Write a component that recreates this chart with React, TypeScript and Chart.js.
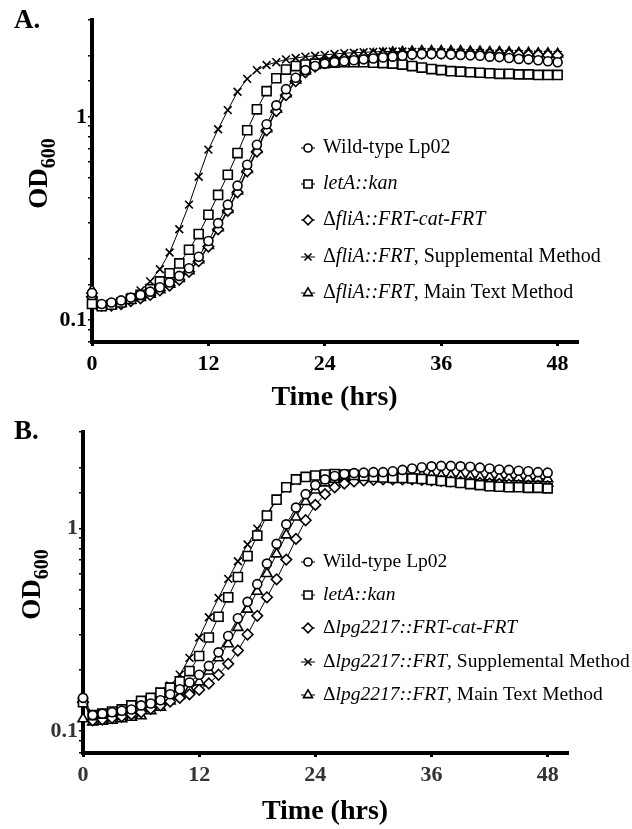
import React, { useEffect, useRef } from "react";
import { Chart, registerables, PointElement } from "chart.js";

Chart.register(...registerables);

const SERIF = '"Liberation Serif", "Times New Roman", serif';

// ---- data ----
const hours = [
  0, 1, 2, 3, 4, 5, 6, 7, 8, 9, 10, 11, 12, 13, 14, 15, 16, 17, 18, 19, 20, 21, 22, 23, 24,
  25, 26, 27, 28, 29, 30, 31, 32, 33, 34, 35, 36, 37, 38, 39, 40, 41, 42, 43, 44, 45, 46, 47, 48,
];
const xTickValues = [0, 12, 24, 36, 48];
const yTickValues = [0.1, 1];

// Panel A
const aWildType = [0.136, 0.12, 0.122, 0.125, 0.129, 0.133, 0.138, 0.145, 0.153, 0.165, 0.18, 0.205, 0.245,
  0.3, 0.37, 0.459, 0.582, 0.729, 0.921, 1.14, 1.37,
  1.56, 1.7, 1.78, 1.83, 1.86, 1.88, 1.9, 1.92, 1.94, 1.96, 1.98, 2.0,
  2.03, 2.04, 2.04, 2.04, 2.03, 2.02, 2.01, 2.0, 1.98, 1.97, 1.95, 1.93, 1.92, 1.9, 1.88, 1.86];
const aLetA = [0.12, 0.117, 0.119, 0.122, 0.127, 0.133, 0.142, 0.155, 0.17, 0.19,
  0.222, 0.265, 0.33, 0.413, 0.519, 0.664, 0.86, 1.09, 1.34, 1.55,
  1.71, 1.78, 1.81, 1.83, 1.84, 1.85, 1.86, 1.86, 1.86, 1.85,
  1.84, 1.83, 1.81, 1.78, 1.75, 1.72, 1.7, 1.68, 1.67, 1.66,
  1.65, 1.64, 1.63, 1.63, 1.62, 1.62, 1.61, 1.61, 1.61];
const aCat = [0.13, 0.118, 0.118, 0.12, 0.124, 0.128, 0.133, 0.14, 0.148, 0.158,
  0.173, 0.195, 0.23, 0.28, 0.345, 0.426, 0.54, 0.676, 0.86, 1.07,
  1.28, 1.5, 1.66, 1.77, 1.84, 1.89, 1.93, 1.96, 1.98, 2.0,
  2.01, 2.02, 2.03, 2.04, 2.05, 2.05, 2.05, 2.05, 2.05, 2.05,
  2.04, 2.04, 2.04, 2.03, 2.03, 2.02, 2.02, 2.01, 2.01];
const aSupp = [0.12, 0.116, 0.118, 0.123, 0.13, 0.14, 0.155, 0.178, 0.215, 0.28,
  0.37, 0.508, 0.69, 0.87, 1.08, 1.33, 1.54, 1.7, 1.8, 1.86,
  1.92, 1.95, 1.98, 2.0, 2.02, 2.04, 2.06, 2.07, 2.08, 2.09,
  2.1, 2.1, 2.1, 2.09, 2.09, 2.08, 2.08, 2.07, 2.07, 2.06,
  2.06, 2.05, 2.05, 2.04, 2.04, 2.03, 2.03, 2.02, 2.02];
const aMain = [0.14, 0.117, 0.118, 0.121, 0.125, 0.129, 0.134, 0.141, 0.15, 0.16,
  0.175, 0.198, 0.233, 0.285, 0.35, 0.432, 0.55, 0.69, 0.875, 1.09,
  1.3, 1.52, 1.68, 1.79, 1.86, 1.91, 1.95, 1.98, 2.01, 2.03,
  2.05, 2.07, 2.08, 2.09, 2.1, 2.1, 2.1, 2.1, 2.1, 2.09,
  2.09, 2.08, 2.08, 2.07, 2.06, 2.06, 2.05, 2.05, 2.04];

// Panel B
const bWildType = [0.146, 0.12, 0.122, 0.124, 0.126, 0.128, 0.134, 0.137, 0.142, 0.152,
  0.161, 0.174, 0.19, 0.21, 0.245, 0.295, 0.361, 0.435, 0.532, 0.672,
  0.841, 1.05, 1.27, 1.48, 1.64, 1.75, 1.82, 1.86, 1.88, 1.89,
  1.9, 1.9, 1.92, 1.95, 1.98, 2.01, 2.03, 2.04, 2.04, 2.03,
  2.02, 2.0, 1.98, 1.96, 1.95, 1.93, 1.92, 1.9, 1.89];
const bLetA = [0.139, 0.12, 0.122, 0.125, 0.128, 0.134, 0.141, 0.146, 0.155, 0.164,
  0.176, 0.198, 0.235, 0.29, 0.367, 0.458, 0.577, 0.732, 0.924, 1.16,
  1.39, 1.6, 1.75, 1.8, 1.83, 1.85, 1.86, 1.85, 1.84, 1.82,
  1.8, 1.79, 1.78, 1.78, 1.77, 1.76, 1.74, 1.72, 1.7, 1.68,
  1.66, 1.64, 1.62, 1.61, 1.6, 1.6, 1.59, 1.59, 1.58];
const bCat = [0.139, 0.113, 0.114, 0.116, 0.118, 0.121, 0.124, 0.129, 0.134, 0.14,
  0.146, 0.152, 0.16, 0.172, 0.19, 0.215, 0.25, 0.3, 0.371, 0.458,
  0.562, 0.703, 0.89, 1.1, 1.31, 1.48, 1.6, 1.67, 1.71, 1.73,
  1.74, 1.75, 1.75, 1.75, 1.75, 1.74, 1.73, 1.72, 1.71, 1.7,
  1.69, 1.68, 1.67, 1.66, 1.65, 1.64, 1.63, 1.63, 1.62];
const bSupp = [0.139, 0.118, 0.12, 0.123, 0.127, 0.132, 0.139, 0.147, 0.157, 0.168,
  0.19, 0.23, 0.29, 0.365, 0.455, 0.565, 0.69, 0.835, 1.0, 1.18,
  1.4, 1.58, 1.72, 1.8, 1.83, 1.84, 1.84, 1.83, 1.82, 1.81,
  1.8, 1.79, 1.78, 1.77, 1.76, 1.75, 1.73, 1.71, 1.69, 1.67,
  1.66, 1.65, 1.64, 1.63, 1.62, 1.62, 1.61, 1.61, 1.6];
const bMain = [0.115, 0.111, 0.112, 0.113, 0.115, 0.117, 0.119, 0.126, 0.131, 0.141,
  0.15, 0.16, 0.175, 0.198, 0.23, 0.27, 0.325, 0.4, 0.49, 0.6,
  0.75, 0.93, 1.14, 1.36, 1.55, 1.68, 1.75, 1.79, 1.8, 1.81,
  1.82, 1.82, 1.83, 1.83, 1.84, 1.84, 1.84, 1.83, 1.83, 1.82,
  1.81, 1.8, 1.8, 1.79, 1.78, 1.78, 1.77, 1.77, 1.76];

// legend labels: [text, italic]
type Part = [string, boolean];
const aLabels: Part[][] = [
  [["Wild-type Lp02", false]],
  [["letA::kan", true]],
  [["\u0394", false], ["fliA::FRT-cat-FRT", true]],
  [["\u0394", false], ["fliA::FRT", true], [", Supplemental Method", false]],
  [["\u0394", false], ["fliA::FRT", true], [", Main Text Method", false]],
];
const bLabels: Part[][] = [
  [["Wild-type Lp02", false]],
  [["letA::kan", true]],
  [["\u0394", false], ["lpg2217::FRT-cat-FRT", true]],
  [["\u0394", false], ["lpg2217::FRT", true], [", Supplemental Method", false]],
  [["\u0394", false], ["lpg2217::FRT", true], [", Main Text Method", false]],
];

const markerStyles = ["circle", "rect", "rectRot", "crossRot", "triangle"];
const markerRadii = [4.5, 6.4, 5.3, 5.5, 5.8];

interface Panel {
  letter: string;
  letterX: number;
  letterY: number;
  series: number[][];
  labels: Part[][];
  width: number;
  height: number;
  padTop: number;
  padRight: number;
  yAxisWidth: number;
  xAxisHeight: number;
  tickColor: string;
  titleX: number;
  titleY: number;
  legendX: number;
  legendY: number[];
  legendSize: number;
}

const panelA: Panel = {
  letter: "A.", letterX: 14, letterY: 28,
  series: [aWildType, aLetA, aCat, aSupp, aMain],
  labels: aLabels,
  width: 632, height: 415,
  padTop: 20, padRight: 55, yAxisWidth: 92, xAxisHeight: 73,
  tickColor: "#000",
  titleX: 47, titleY: 173.5,
  legendX: 308, legendY: [148, 184, 220, 257, 293],
  legendSize: 20,
};

const panelB: Panel = {
  letter: "B.", letterX: 14, letterY: 24,
  series: [bWildType, bLetA, bCat, bSupp, bMain],
  labels: bLabels,
  width: 632, height: 414,
  padTop: 17, padRight: 65, yAxisWidth: 83, xAxisHeight: 76,
  tickColor: "#333",
  titleX: 40, titleY: 169.5,
  legendX: 308, legendY: [147, 180, 213, 247, 280],
  legendSize: 19.5,
};

function makeDecor(p: Panel) {
  return {
    id: "panelDecor",
    afterDraw(chart: any) {
      const ctx: CanvasRenderingContext2D = chart.ctx;
      ctx.save();
      ctx.fillStyle = "#000";
      ctx.textAlign = "left";
      ctx.textBaseline = "alphabetic";
      ctx.font = `bold 27px ${SERIF}`;
      ctx.fillText(p.letter, p.letterX, p.letterY);

      // rotated y title OD600
      ctx.save();
      ctx.translate(p.titleX, p.titleY);
      ctx.rotate(-Math.PI / 2);
      const mainFont = `bold 27px ${SERIF}`;
      const subFont = `bold 20px ${SERIF}`;
      ctx.font = mainFont;
      const w1 = ctx.measureText("OD").width;
      ctx.font = subFont;
      const w2 = ctx.measureText("600").width;
      const u = -(w1 + w2) / 2;
      ctx.font = mainFont;
      ctx.fillText("OD", u, 0);
      ctx.font = subFont;
      ctx.fillText("600", u + w1, 8);
      ctx.restore();

      // legend
      const ds = chart.data.datasets;
      p.labels.forEach((parts, i) => {
        const d = ds[i];
        const y = p.legendY[i];
        ctx.strokeStyle = "#000";
        ctx.lineWidth = 1;
        ctx.beginPath();
        ctx.moveTo(p.legendX - 7, y);
        ctx.lineTo(p.legendX + 7, y);
        ctx.stroke();
        const pt: any = new (PointElement as any)({
          x: p.legendX,
          y,
          options: {
            pointStyle: d.pointStyle,
            radius: d.pointRadius * 0.9,
            borderWidth: d.pointBorderWidth,
            backgroundColor: "#fff",
            borderColor: "#000",
            rotation: 0,
          },
        });
        pt.draw(ctx);
        let x = p.legendX + 15;
        ctx.textBaseline = "middle";
        ctx.fillStyle = "#000";
        parts.forEach(([txt, it]) => {
          ctx.font = `${it ? "italic " : ""}${p.legendSize}px ${SERIF}`;
          ctx.fillText(txt, x, y);
          x += ctx.measureText(txt).width;
        });
      });
      ctx.restore();
    },
  };
}

function makeConfig(p: Panel): any {
  return {
    type: "line",
    data: {
      datasets: p.series.map((vals, i) => ({
        label: p.labels[i].map((q) => q[0]).join(""),
        data: hours.map((h, j) => ({ x: h, y: vals[j] })),
        borderColor: "#000",
        borderWidth: 1,
        tension: 0,
        pointStyle: markerStyles[i],
        pointRadius: markerRadii[i],
        pointBorderWidth: 1.6,
        pointBackgroundColor: "#fff",
        pointBorderColor: "#000",
        clip: false,
      })),
    },
    options: {
      animation: false,
      responsive: false,
      events: [],
      layout: { padding: { left: 0, top: p.padTop, right: p.padRight, bottom: 0 } },
      plugins: { legend: { display: false }, tooltip: { enabled: false } },
      scales: {
        x: {
          type: "linear",
          min: 0,
          max: 50,
          afterBuildTicks: (s: any) => {
            s.ticks = xTickValues.map((v) => ({ value: v }));
          },
          afterFit: (s: any) => {
            s.height = p.xAxisHeight;
          },
          border: { display: true, color: "#000", width: 4, dash: [3, 0.7] },
          grid: { drawOnChartArea: false, drawTicks: true, tickLength: 4, color: "#000", lineWidth: 3 },
          ticks: {
            autoSkip: false,
            maxRotation: 0,
            padding: 5,
            color: p.tickColor,
            font: { family: SERIF, size: 22, weight: "bold" },
          },
          title: {
            display: true,
            text: "Time (hrs)",
            color: "#000",
            padding: 0,
            font: { family: SERIF, size: 28, weight: "bold" },
          },
        },
        y: {
          type: "logarithmic",
          min: 0.078,
          max: 3,
          afterFit: (s: any) => {
            s.width = p.yAxisWidth;
          },
          border: { display: true, color: "#000", width: 4, dash: [3, 0.7] },
          grid: { drawOnChartArea: false, drawTicks: true, tickLength: 4, color: "#000", lineWidth: 1.5 },
          ticks: {
            autoSkip: false,
            padding: 1,
            color: p.tickColor,
            font: { family: SERIF, size: 22, weight: "bold" },
            callback: (v: any) => {
              const n = Number(v);
              const hit = yTickValues.find((t) => Math.abs(t - n) < 1e-9);
              return hit !== undefined ? String(hit) : "";
            },
          },
        },
      },
    },
    plugins: [makeDecor(p)],
  };
}

function PanelChart({ panel, top }: { panel: Panel; top: number }) {
  const ref = useRef<HTMLCanvasElement>(null);
  useEffect(() => {
    if (!ref.current) return;
    const chart = new Chart(ref.current, makeConfig(panel));
    return () => chart.destroy();
  }, [panel]);
  return (
    <canvas
      ref={ref}
      width={panel.width}
      height={panel.height}
      style={{ position: "absolute", left: 0, top, width: panel.width, height: panel.height, display: "block" }}
    />
  );
}

export default function App() {
  return (
    <div style={{ position: "absolute", left: 0, top: 0, width: 632, height: 829, background: "#fff" }}>
      <PanelChart panel={panelA} top={0} />
      <PanelChart panel={panelB} top={415} />
    </div>
  );
}
